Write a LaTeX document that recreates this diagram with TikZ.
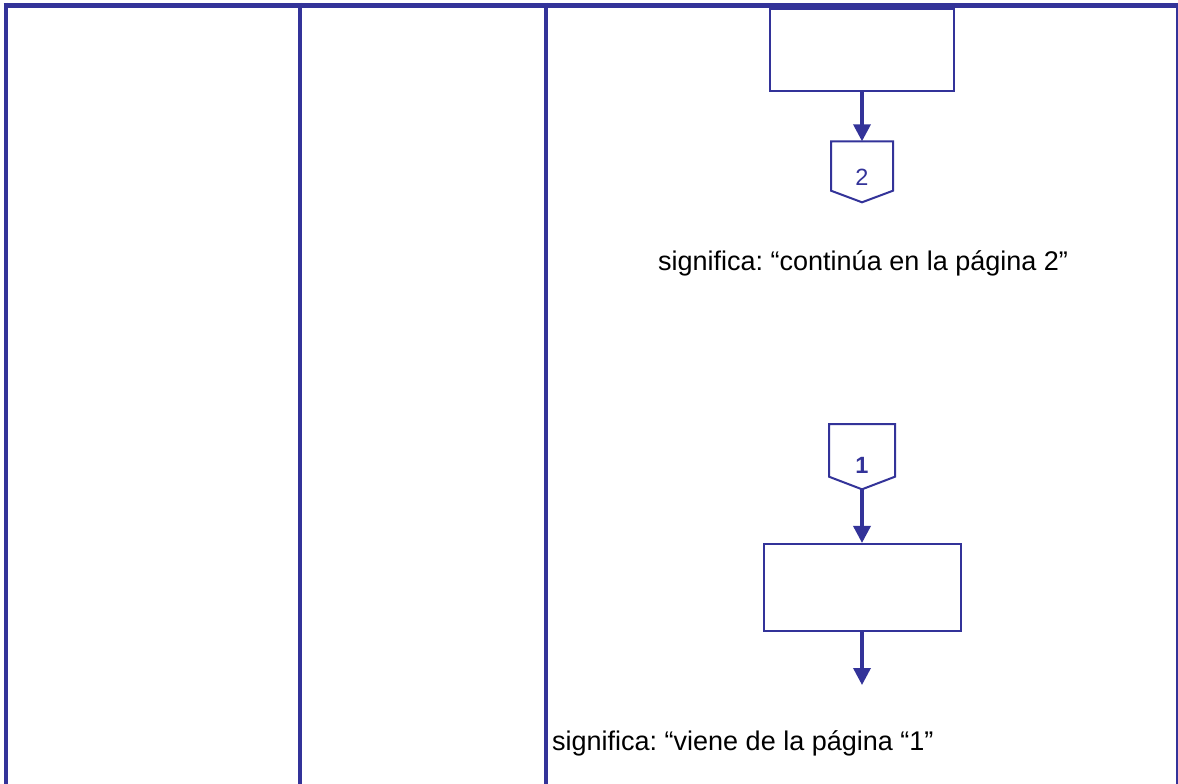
\documentclass[tikz,border=0pt]{standalone}
\usepackage{fontspec}
\setmainfont{Liberation Sans}
\frenchspacing
\usetikzlibrary{arrows.meta}
\definecolor{tblue}{RGB}{51,51,153}
\begin{document}
\begin{tikzpicture}[x=1pt,y=-1pt,
  rule/.style={draw=tblue,line width=4.6pt},
  procbox/.style={draw=tblue,line width=2pt,fill=white,minimum width=184pt,minimum height=81pt,inner sep=0pt},
  conn/.style={draw=tblue,line width=2pt,line join=miter},
  connlabel/.style={text=tblue,font=\fontsize{23.5}{26}\selectfont,inner sep=0pt},
  arr/.style={draw=tblue,line width=3.5pt,-{Triangle[length=17pt,width=17pt]}},
  note/.style={anchor=base west,inner sep=0pt,text=black,font=\fontsize{27}{30}\selectfont}]
\useasboundingbox (0,0) rectangle (1178,784);
\fill[white] (0,0) rectangle (1178,784);
% table rules
\draw[rule] (3.7,5.3) -- (1178,5.3);
\draw[rule] (6,3) -- (6,784);
\draw[rule] (300,3) -- (300,784);
\draw[rule] (546,3) -- (546,784);
\draw[draw=tblue,line width=1.8pt] (1177.2,3) -- (1177.2,784);
% top part
\node[procbox] (b1) at (862,50) {};
\draw[conn] (831,141.3) -- (893,141.3) -- (893,190.7) -- (862,202.3) -- (831,190.7) -- cycle;
\coordinate (c2top) at (862,141.3);
\node[connlabel] (c2) at (862,177) {2};
\draw[arr] (b1.south) -- (c2top);
\node[note] (t1) at (658,270) {significa: “continúa en la página 2”};
% bottom part
\draw[conn] (829,424) -- (895,424) -- (895,476.7) -- (862,489.3) -- (829,476.7) -- cycle;
\coordinate (c1tip) at (862,489.3);
\node[connlabel,font=\fontsize{23.5}{26}\selectfont\bfseries] (c1) at (862,465) {1};
\node[procbox,minimum width=197pt,minimum height=86.7pt] (b2) at (862,587.3) {};
\draw[arr] (c1tip) -- (b2.north);
\coordinate (out) at (862,685);
\draw[arr] (b2.south) -- (out);
\node[note] (t2) at (552,750) {significa: “viene de la página “1”};
\end{tikzpicture}
\end{document}
